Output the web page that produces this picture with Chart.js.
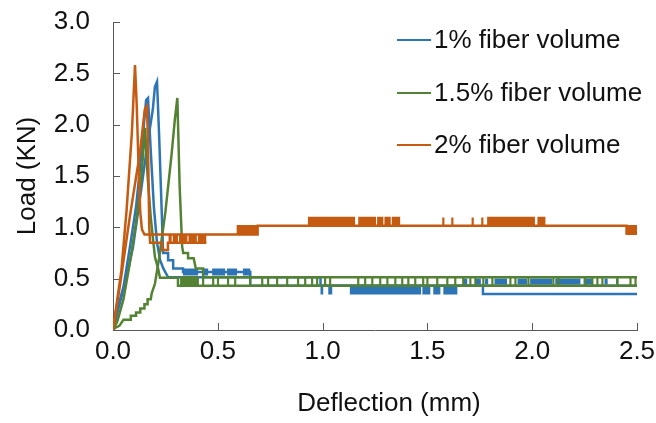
<!DOCTYPE html>
<html>
<head>
<meta charset="utf-8">
<script src="https://cdn.jsdelivr.net/npm/chart.js@4.4.0/dist/chart.umd.min.js"></script>
<style>
  html, body { margin: 0; padding: 0; background: #fff; }
  #wrap { width: 656px; height: 423px; position: relative; }
</style>
</head>
<body>
<div id="wrap"><canvas id="load-chart"></canvas></div>
<script>
// ---- data (deflection mm, load kN) ----
const seriesNames = ['1% fiber volume', '1.5% fiber volume', '2% fiber volume']
const xTicks = [0, 0.5, 1.0, 1.5, 2.0, 2.5]
const yTicks = [0, 0.5, 1.0, 1.5, 2.0, 2.5, 3.0]
const xTitle = 'Deflection (mm)'
const yTitle = 'Load (KN)'

// 1% fiber volume specimens
const blue1 = [[0,0],[0.025,0.2],[0.065,0.52],[0.095,0.8],[0.13,1.3],[0.16,1.75],[0.19,2.15],[0.2,2.37],[0.21,2.42],
  [0.22,1.9],[0.229,1.36],[0.239,0.75],[0.263,0.75],[0.263,0.68],[0.287,0.68],[0.287,0.6],[0.334,0.6],[0.334,0.565],
  [0.655,0.565],[0.655,0.43],[2.5,0.43]]
const blue2 = [[0,0],[0.02,0.2],[0.05,0.42],[0.08,0.8],[0.11,1.2],[0.128,1.56],[0.158,2.24],[0.167,2.26],
  [0.18,1.75],[0.195,1.2],[0.21,0.85],[0.225,0.68],[0.24,0.6],[0.263,0.513],[0.99,0.513],[0.99,0.43],
  [1.765,0.43],[1.765,0.35],[2.5,0.35]]
// flicker bands of the 1% curves: [from, to] in mm
const blueHighBand = [[0.334,0.406],[0.43,0.454],[0.473,0.535],[0.544,0.592],[0.62,0.655]]
const blueMidBand = [[1.67,1.69],[1.73,1.755],[1.775,1.79],[1.82,1.88],[1.93,1.975],[1.99,2.095],[2.11,2.23],[2.245,2.285],[2.345,2.36],[2.4,2.41]]
const blueLowBand = [[0.99,1.003],[1.027,1.046],[1.13,1.47],[1.476,1.514],[1.528,1.562],[1.576,1.643]]
const blueBandLevels = [0.565, 0.472, 0.385]

// 1.5% fiber volume specimens
const green1 = [[0,0],[0.02,0.08],[0.05,0.3],[0.08,0.65],[0.11,1.05],[0.134,1.46],[0.145,1.75],[0.153,1.97],
  [0.165,1.5],[0.18,1.1],[0.2,0.71],[0.215,0.6],[0.224,0.51],[0.31,0.51],[0.31,0.43],[2.5,0.43]]
const green2 = [[0,0],[0.01,0.02],[0.03,0.04],[0.05,0.1],[0.085,0.1],[0.085,0.14],[0.11,0.14],[0.11,0.17],
  [0.13,0.17],[0.13,0.21],[0.15,0.21],[0.15,0.25],[0.165,0.25],[0.165,0.3],[0.18,0.3],[0.185,0.36],[0.2,0.45],
  [0.22,0.7],[0.25,1.15],[0.28,1.72],[0.295,2.05],[0.307,2.26],[0.318,1.4],[0.33,0.81],[0.335,0.75],[0.358,0.75],
  [0.358,0.7],[0.385,0.7],[0.395,0.6],[0.43,0.6],[0.43,0.513],[2.5,0.513]]
const greenBlock = [[0.32,0.41]]
const greenBlockLevel = 0.472
const greenSpikes = [0.43,0.478,0.501,0.549,0.583,0.654,0.712,0.74,0.783,0.831,0.883,0.917,0.95,0.974,1.012,1.036,
  1.17,1.203,1.237,1.275,1.309,1.347,1.38,1.409,1.442,1.48,1.5,1.547,1.595,1.633,1.671,1.705,1.729,1.767,1.81,
  1.896,1.92,1.982,2.101,2.125,2.254,2.287,2.311,2.335,2.407,2.469,2.493]
const greenSpikeRange = [0.43, 0.513]

// 2% fiber volume specimens
const orange1 = [[0,0],[0.04,0.58],[0.065,1.17],[0.09,1.92],[0.105,2.58],[0.113,2.2],[0.122,1.6],[0.13,1.15],
  [0.138,0.98],[0.15,0.93],[0.59,0.93],[0.69,0.93],[0.69,1.016],[2.45,1.016],[2.45,0.94],[2.5,0.94]]
const orange2 = [[0,0],[0.035,0.46],[0.08,1.1],[0.128,1.72],[0.152,2.15],[0.162,2.18],[0.166,1.9],[0.17,1.4],
  [0.173,1.0],[0.177,0.85],[0.235,0.85],[0.235,0.78],[0.262,0.78],[0.262,0.85],[0.445,0.85]]
const orangeHighBand = [[0.93,1.155],[1.17,1.255],[1.26,1.29],[1.295,1.325],[1.33,1.37],[1.785,2.013],[2.025,2.063]]
const orangeMidBand = [[0.59,0.69],[2.45,2.5]]
const orangeLowBand = [[0.265,0.28],[0.285,0.31],[0.315,0.355],[0.36,0.4],[0.405,0.445]]
const orangeBandLevels = [1.055, 0.975, 0.89]
const orangeSpikes = [1.576, 1.619, 1.716, 1.762]
const orangeSpikeRange = [1.016, 1.095]

// ---- styles ----
const blueColor = '#2E75B6'
const greenColor = '#548235'
const orangeColor = '#C55A11'
const axisColor = '#595959'
const textColor = '#111111'
const fontFamily = "'Liberation Sans', Arial, sans-serif"

function toPoints(list) {
    return list.map(p => ({x: p[0], y: p[1]}))
}

function bandPoints(ranges, level) {
    let out = []
    ranges.forEach(r => {
        out.push({x: r[0], y: level}, {x: r[1], y: level}, {x: r[1], y: null})
    })
    return out
}

function spikePoints(xs, range) {
    let out = []
    xs.forEach(x => {
        out.push({x: x, y: range[0]}, {x: x, y: range[1]}, {x: x, y: null})
    })
    return out
}

function lineSet(points, color, order, width) {
    return {
        data: points,
        borderColor: color,
        backgroundColor: color,
        borderWidth: width,
        pointRadius: 0,
        pointHoverRadius: 0,
        tension: 0,
        fill: false,
        spanGaps: false,
        order: order,
        borderCapStyle: 'butt'
    }
}

const datasets = [
    lineSet(toPoints(blue1), blueColor, 3, 2.5),
    lineSet(toPoints(blue2), blueColor, 3, 2.5),
    lineSet(bandPoints(blueHighBand, blueBandLevels[0]), blueColor, 3, 7),
    lineSet(bandPoints(blueMidBand, blueBandLevels[1]), blueColor, 3, 6),
    lineSet(bandPoints(blueLowBand, blueBandLevels[2]), blueColor, 3, 8),
    lineSet(toPoints(green1), greenColor, 2, 2.5),
    lineSet(toPoints(green2), greenColor, 2, 2.5),
    lineSet(bandPoints(greenBlock, greenBlockLevel), greenColor, 2, 11),
    lineSet(spikePoints(greenSpikes, greenSpikeRange), greenColor, 2, 2.2),
    lineSet(toPoints(orange1), orangeColor, 1, 2.5),
    lineSet(toPoints(orange2), orangeColor, 1, 2.5),
    lineSet(bandPoints(orangeHighBand, orangeBandLevels[0]), orangeColor, 1, 10),
    lineSet(bandPoints(orangeMidBand, orangeBandLevels[1]), orangeColor, 1, 10),
    lineSet(bandPoints(orangeLowBand, orangeBandLevels[2]), orangeColor, 1, 9),
    lineSet(spikePoints(orangeSpikes, orangeSpikeRange), orangeColor, 1, 2.2)
]

// inside tick marks, like the original axes
const insideTicks = {
    id: 'insideTicks',
    beforeDatasetsDraw(chart) {
        const {ctx, chartArea} = chart
        const x = chart.scales.x
        const y = chart.scales.y
        ctx.save()
        ctx.strokeStyle = axisColor
        ctx.lineWidth = 1
        ctx.beginPath()
        x.ticks.forEach(t => {
            const px = Math.round(x.getPixelForValue(t.value)) + 0.5
            ctx.moveTo(px, chartArea.bottom)
            ctx.lineTo(px, chartArea.bottom - 7)
        })
        y.ticks.forEach(t => {
            const py = Math.round(y.getPixelForValue(t.value)) + 0.5
            ctx.moveTo(chartArea.left, py)
            ctx.lineTo(chartArea.left + 7, py)
        })
        ctx.stroke()
        ctx.restore()
    }
}

// titles and legend inside the plot
const labelsPlugin = {
    id: 'labelsPlugin',
    afterDraw(chart) {
        const ctx = chart.ctx
        ctx.save()
        ctx.fillStyle = textColor
        ctx.font = '26px ' + fontFamily
        ctx.textBaseline = 'middle'
        ctx.textAlign = 'center'
        ctx.fillText(xTitle, 389, 404)
        ctx.save()
        ctx.translate(28, 176)
        ctx.rotate(-Math.PI / 2)
        ctx.fillText(yTitle, 0, 0)
        ctx.restore()

        const colors = [blueColor, greenColor, orangeColor]
        const rows = [40, 93, 145]
        ctx.textAlign = 'left'
        seriesNames.forEach((name, i) => {
            ctx.strokeStyle = colors[i]
            ctx.lineWidth = 2
            ctx.beginPath()
            ctx.moveTo(397, rows[i])
            ctx.lineTo(431, rows[i])
            ctx.stroke()
            ctx.fillText(name, 434, rows[i] + 1)
        })
        ctx.restore()
    }
}

const config = {
    type: 'line',
    data: { datasets: datasets },
    options: {
        responsive: true,
        maintainAspectRatio: false,
        animation: false,
        events: [],
        layout: { padding: { top: 22, right: 19, left: 0, bottom: 0 } },
        plugins: {
            legend: { display: false },
            tooltip: { enabled: false }
        },
        scales: {
            x: {
                type: 'linear',
                min: 0,
                max: 2.5,
                afterBuildTicks: scale => { scale.ticks = xTicks.map(v => ({value: v})) },
                afterFit: scale => {
                    scale.height = 93
                    scale.paddingLeft = 0
                    scale.paddingRight = 0
                },
                grid: { drawOnChartArea: false, drawTicks: false },
                border: { display: true, color: axisColor, width: 1 },
                ticks: {
                    padding: 6,
                    color: textColor,
                    font: { family: fontFamily, size: 26 },
                    callback: v => v.toFixed(1),
                    maxRotation: 0
                }
            },
            y: {
                type: 'linear',
                min: 0,
                max: 3,
                afterBuildTicks: scale => { scale.ticks = yTicks.map(v => ({value: v})) },
                afterFit: scale => {
                    scale.width = 113
                    scale.paddingTop = 0
                    scale.paddingBottom = 0
                },
                grid: { drawOnChartArea: false, drawTicks: false },
                border: { display: true, color: axisColor, width: 1 },
                ticks: {
                    padding: 23,
                    color: textColor,
                    font: { family: fontFamily, size: 26 },
                    callback: v => v.toFixed(1)
                }
            }
        }
    },
    plugins: [insideTicks, labelsPlugin]
}

new Chart(document.getElementById('load-chart'), config)
</script>
</body>
</html>
